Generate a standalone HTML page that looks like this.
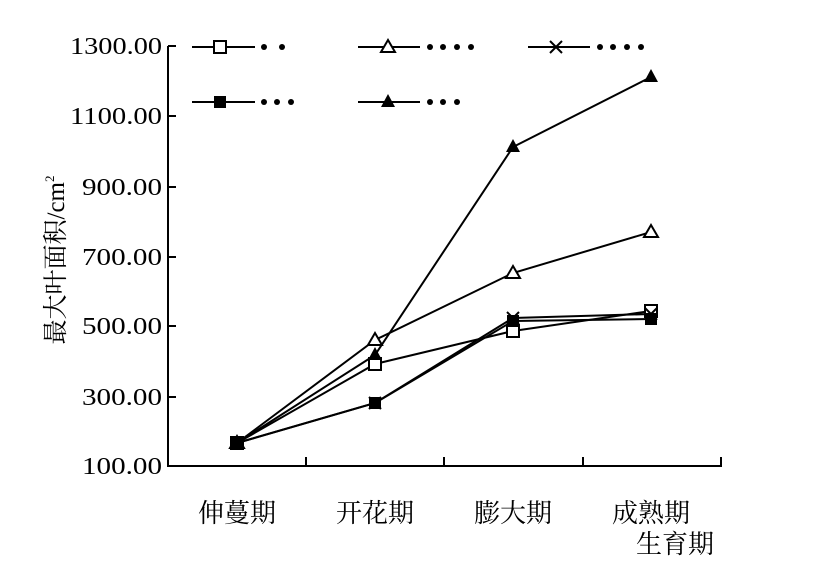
<!DOCTYPE html>
<html><head><meta charset="utf-8"><style>body{margin:0;background:#fff}</style></head><body>
<svg width="821" height="566" viewBox="0 0 821 566" xmlns="http://www.w3.org/2000/svg">
<g stroke="#000" stroke-width="2" fill="none">
<path d="M168,46 V466 H722"/>
<path d="M168,46h8M168,116h8M168,187h8M168,257h8M168,326h8M168,397h8"/>
<path d="M306,466v-9M444,466v-9M583,466v-9M721,466v-9"/>
<polyline points="237,443 375,364 513,331 651,311"/>
<polyline points="237,443 375,340 513,273 651,232"/>
<polyline points="237,443 375,403 513,318 651,314"/>
<polyline points="237,443 375,403 513,321 651,319"/>
<polyline points="237,443 375,355 513,147 651,77"/>
<path d="M192,47H255M358,47H420M528,47H590M192,102H255M358,102H420"/>
</g>
<g stroke="#000" stroke-width="2" fill="#fff">
<rect x="231" y="437" width="12" height="12"/><rect x="369" y="358" width="12" height="12"/><rect x="507" y="325" width="12" height="12"/><rect x="645" y="305" width="12" height="12"/><rect x="214" y="41" width="12" height="12"/>
<path d="M237,436l7,12h-14z M375,333l7,12h-14z M513,266l7,12h-14z M651,225l7,12h-14z M388,40l7,12h-14z"/>
<path d="M231,437l12,12M243,437l-12,12 M369,397l12,12M381,397l-12,12 M507,312l12,12M519,312l-12,12 M645,308l12,12M657,308l-12,12 M550,41l12,12M562,41l-12,12"/>
</g>
<g fill="#000">
<rect x="231" y="437" width="12" height="12"/><rect x="369" y="397" width="12" height="12"/><rect x="507" y="315" width="12" height="12"/><rect x="645" y="313" width="12" height="12"/><rect x="214" y="96" width="12" height="12"/>
<path d="M237,435l7,13h-14z M375,347l7,13h-14z M513,139l7,13h-14z M651,69l7,13h-14z M388,94l7,13h-14z"/>
<g>
<circle cx="264" cy="47" r="3"/><circle cx="282" cy="47" r="3"/>
<circle cx="430" cy="47" r="3"/><circle cx="443" cy="47" r="3"/><circle cx="457" cy="47" r="3"/><circle cx="471" cy="47" r="3"/>
<circle cx="600" cy="47" r="3"/><circle cx="613" cy="47" r="3"/><circle cx="627" cy="47" r="3"/><circle cx="641" cy="47" r="3"/>
<circle cx="264" cy="102" r="3"/><circle cx="277" cy="102" r="3"/><circle cx="291" cy="102" r="3"/>
<circle cx="430" cy="102" r="3"/><circle cx="443" cy="102" r="3"/><circle cx="457" cy="102" r="3"/>
</g>
</g>
<g font-family="Liberation Serif, serif" font-size="24" text-anchor="end" fill="#000">
<text x="162" y="54" textLength="92" lengthAdjust="spacingAndGlyphs">1300.00</text>
<text x="162" y="124" textLength="92" lengthAdjust="spacingAndGlyphs">1100.00</text>
<text x="162" y="195" textLength="80" lengthAdjust="spacingAndGlyphs">900.00</text>
<text x="162" y="265" textLength="80" lengthAdjust="spacingAndGlyphs">700.00</text>
<text x="162" y="334" textLength="80" lengthAdjust="spacingAndGlyphs">500.00</text>
<text x="162" y="405" textLength="80" lengthAdjust="spacingAndGlyphs">300.00</text>
<text x="162" y="474" textLength="80" lengthAdjust="spacingAndGlyphs">100.00</text>
</g>
<g font-family="Liberation Serif, 'Noto Serif CJK SC', 'Noto Sans CJK SC', serif" font-size="26" text-anchor="middle" fill="#000">
<text x="237" y="522">伸蔓期</text><text x="375" y="522">开花期</text><text x="513" y="522">膨大期</text><text x="651" y="522">成熟期</text><text x="675" y="553">生育期</text>
<text transform="translate(64,260) rotate(-90)" font-size="25">最大叶面积/cm<tspan font-size="13" dy="-10">2</tspan></text>
</g>
</svg>
</body></html>
